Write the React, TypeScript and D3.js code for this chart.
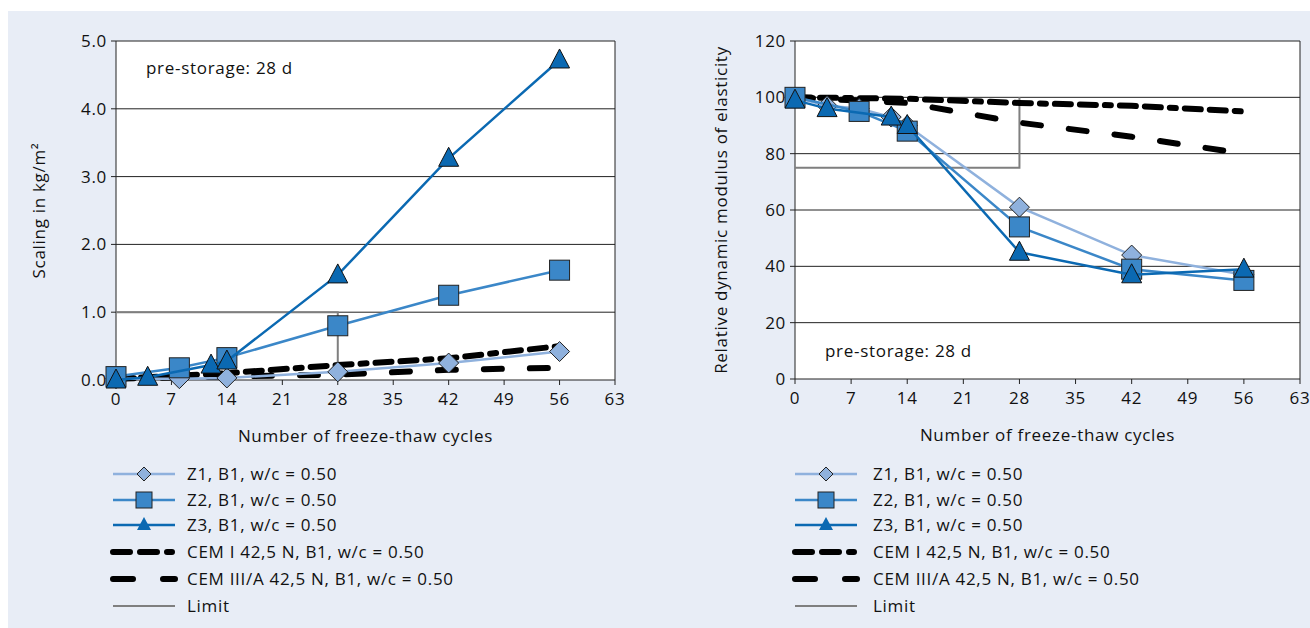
import React from "react";
import * as d3 from "d3";

const xTicks = [0, 7, 14, 21, 28, 35, 42, 49, 56, 63];
const leftYTicks = [0, 1, 2, 3, 4, 5];
const rightYTicks = [0, 20, 40, 60, 80, 100, 120];

const lZ1 = [[0, 0.02], [8, 0.02], [14, 0.03], [28, 0.12], [42, 0.25], [56, 0.42]];
const lZ2 = [[0, 0.05], [8, 0.18], [14, 0.33], [28, 0.8], [42, 1.25], [56, 1.62]];
const lZ3 = [[0, 0.0], [4, 0.04], [12, 0.22], [14, 0.28], [28, 1.55], [42, 3.27], [56, 4.72]];
const lCem1 = [[0, 0.02], [14, 0.1], [28, 0.22], [42, 0.32], [56, 0.5]];
const lCem3 = [[0, 0.02], [14, 0.05], [28, 0.08], [42, 0.15], [56, 0.18]];
const lLimit = [[0, 1.0], [28, 1.0], [28, 0]];

const rZ1 = [[0, 100], [4, 97], [8, 96], [12, 93], [14, 90], [28, 61], [42, 44], [56, 37]];
const rZ2 = [[0, 100], [8, 95], [14, 88], [28, 54], [42, 39], [56, 35]];
const rZ3 = [[0, 99], [4, 96], [12, 93], [14, 90], [28, 45], [42, 37], [56, 39]];
const rCem1 = [[0, 100], [14, 99.5], [28, 98], [42, 97], [56, 95]];
const rCem3 = [[0, 100], [14, 98], [28, 91], [42, 86], [56, 80]];
const rLimit = [[0, 75], [28, 75], [28, 100]];

const legendLabels = [
  "Z1,  B1, w/c = 0.50",
  "Z2,  B1, w/c = 0.50",
  "Z3,  B1, w/c = 0.50",
  "CEM I 42,5 N, B1, w/c = 0.50",
  "CEM III/A  42,5 N, B1, w/c = 0.50",
  "Limit",
];

const C1 = "#8fb1dd", C2 = "#3b87c8", C3 = "#0b69b2";
const FONT = "'Open Sans', 'Noto Sans', sans-serif";
const FS = 17;
const LS = 0.7;
const DASH1 = "16 9 16 9 6 9";
const DASH3 = "18 28";

function Marker({ type, x, y, color }: any) {
  if (type === "d") return <path d={`M${x},${y - 10}L${x + 10},${y}L${x},${y + 10}L${x - 10},${y}Z`} fill={color} stroke="#222" strokeWidth={1} />;
  if (type === "s") return <rect x={x - 10} y={y - 10} width={20} height={20} fill={color} stroke="#222" strokeWidth={1} />;
  return <path d={`M${x},${y - 11}L${x + 10},${y + 8}L${x - 10},${y + 8}Z`} fill={color} stroke="#111" strokeWidth={1} />;
}

function T(props: any) {
  return <text fontSize={FS} fontFamily={FONT} fill="#111" letterSpacing={LS} {...props} />;
}

function Panel({ x0, x1, y0, y1, yMax, yTicks, fmt, ylabel, ylx, note, noteY, series, cem1, cem3, limit }: any) {
  const x = d3.scaleLinear().domain([0, 63]).range([x0, x1]);
  const y = d3.scaleLinear().domain([0, yMax]).range([y1, y0]);
  const line = d3.line<number[]>().x(d => x(d[0])).y(d => y(d[1]));
  return (
    <g>
      <rect x={x0} y={y0} width={x1 - x0} height={y1 - y0} fill="#fff" />
      {yTicks.map((t: number) => (
        <g key={t}>
          <line x1={x0} x2={x1} y1={y(t)} y2={y(t)} stroke="#222" strokeWidth={1} />
          <line x1={x0 - 5} x2={x0} y1={y(t)} y2={y(t)} stroke="#222" />
          <T x={x0 - 9} y={y(t) + 6} textAnchor="end">{fmt(t)}</T>
        </g>
      ))}
      <line x1={x1} x2={x1} y1={y0} y2={y1} stroke="#222" />
      <line x1={x0} x2={x0} y1={y0} y2={y1} stroke="#222" />
      {xTicks.map(t => (
        <g key={t}>
          <line x1={x(t)} x2={x(t)} y1={y1} y2={y1 + 5} stroke="#222" />
          <T x={x(t)} y={y1 + 25} textAnchor="middle">{t}</T>
        </g>
      ))}
      <T x={(x0 + x1) / 2} y={y1 + 62} textAnchor="middle">Number of freeze-thaw cycles</T>
      <T transform={`translate(${ylx},${(y0 + y1) / 2}) rotate(-90)`} textAnchor="middle">{ylabel}</T>
      <T x={x0 + 30} y={noteY}>{note}</T>
      <path d={line(limit)!} fill="none" stroke="#7f7f7f" strokeWidth={2} />
      <path d={line(cem3)!} fill="none" stroke="#000" strokeWidth={6} strokeDasharray={DASH3} strokeLinecap="round" />
      <path d={line(cem1)!} fill="none" stroke="#000" strokeWidth={6} strokeDasharray={DASH1} strokeLinecap="round" />
      {series.map((s: any, i: number) => (
        <g key={i}>
          <path d={line(s.data)!} fill="none" stroke={s.color} strokeWidth={2.5} />
          {s.data.map((p: number[], j: number) => <Marker key={j} type={s.type} x={x(p[0])} y={y(p[1])} color={s.color} />)}
        </g>
      ))}
    </g>
  );
}

function Legend({ lx, tx }: any) {
  const rows = [474, 500, 525, 552, 579, 606];
  const cols = [C1, C2, C3];
  return (
    <g>
      {legendLabels.map((l, i) => (
        <g key={i}>
          {i < 3 && <>
            <line x1={lx} x2={lx + 62} y1={rows[i]} y2={rows[i]} stroke={cols[i]} strokeWidth={2.5} />
            {i === 0 ? <path d={`M${lx + 31},${rows[i] - 7}L${lx + 38},${rows[i]}L${lx + 31},${rows[i] + 7}L${lx + 24},${rows[i]}Z`} fill={C1} stroke="#222" />
              : i === 1 ? <rect x={lx + 23} y={rows[i] - 8} width={16} height={16} fill={C2} stroke="#222" />
                : <path d={`M${lx + 31},${rows[i] - 8}L${lx + 38},${rows[i] + 5}L${lx + 24},${rows[i] + 5}Z`} fill={C3} />}
          </>}
          {i === 3 && <line x1={lx} x2={lx + 62} y1={rows[i]} y2={rows[i]} stroke="#000" strokeWidth={6} strokeDasharray="17 10 17 10 5 10" strokeLinecap="round" />}
          {i === 4 && <line x1={lx} x2={lx + 62} y1={rows[i]} y2={rows[i]} stroke="#000" strokeWidth={6} strokeDasharray="20 30" strokeLinecap="round" />}
          {i === 5 && <line x1={lx} x2={lx + 62} y1={rows[i]} y2={rows[i]} stroke="#7f7f7f" strokeWidth={2} />}
          <T x={tx} y={rows[i] + 6}>{l}</T>
        </g>
      ))}
    </g>
  );
}

export default function App() {
  return (
    <svg width={1310} height={628} style={{ position: "absolute", left: 0, top: 0 }}>
      <rect x={0} y={0} width={1310} height={628} fill="#fff" />
      <rect x={8} y={11} width={1302} height={617} fill="#e8edf6" />
      <Panel x0={116} x1={615} y0={41} y1={380} yMax={5} yTicks={leftYTicks} fmt={(t: number) => t.toFixed(1)}
        ylabel="Scaling in kg/m²" ylx={45} note="pre-storage: 28 d" noteY={74}
        series={[{ data: lZ1, color: C1, type: "d" }, { data: lZ2, color: C2, type: "s" }, { data: lZ3, color: C3, type: "t" }]}
        cem1={lCem1} cem3={lCem3} limit={lLimit} />
      <Panel x0={795} x1={1300} y0={41} y1={379} yMax={120} yTicks={rightYTicks} fmt={(t: number) => String(t)}
        ylabel="Relative dynamic modulus of elasticity" ylx={727} note="pre-storage: 28 d" noteY={357}
        series={[{ data: rZ1, color: C1, type: "d" }, { data: rZ2, color: C2, type: "s" }, { data: rZ3, color: C3, type: "t" }]}
        cem1={rCem1} cem3={rCem3} limit={rLimit} />
      <Legend lx={113} tx={187} />
      <Legend lx={795} tx={873} />
    </svg>
  );
}
